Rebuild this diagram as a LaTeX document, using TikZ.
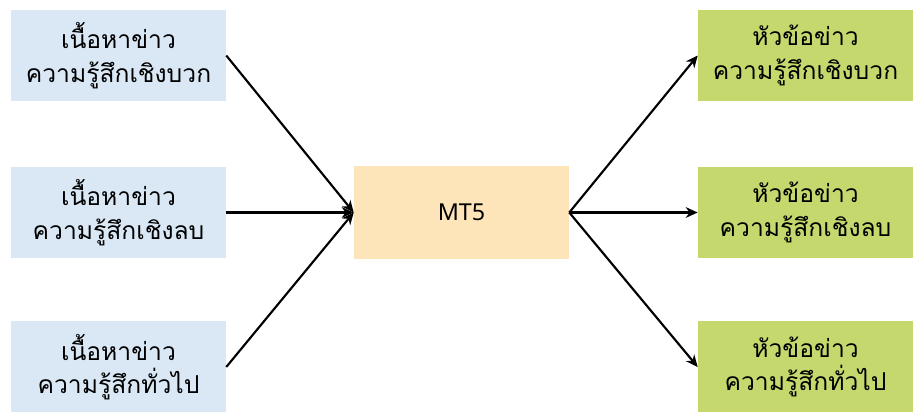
\documentclass[tikz,border=0pt]{standalone}
\usepackage{fontspec}
\setmainfont{Noto Sans}
\newfontfamily\thaifont[Script=Thai]{Loma}
\usetikzlibrary{arrows.meta}
\definecolor{newsblue}{HTML}{DAE8F5}
\definecolor{modelpeach}{HTML}{FDE5B9}
\definecolor{headgreen}{HTML}{C4D86D}
\tikzset{%
    sourcebox/.style={fill=newsblue, minimum width=161.25pt, minimum height=68.25pt, align=center, font=\thaifont\fontsize{18.5}{25}\selectfont},
    modelbox/.style={fill=modelpeach, minimum width=161.25pt, minimum height=69.75pt, font=\fontsize{17.5}{24}\selectfont},
    headbox/.style={fill=headgreen, minimum width=161.25pt, minimum height=68.25pt, align=center, font=\thaifont\fontsize{18.5}{25}\selectfont},
    flow/.style={-{Stealth[length=9pt, width=8pt]}, line width=1.6pt},
}

\begin{document}
\begin{tikzpicture}[x=0.75pt, y=-0.75pt]

	% frame
	\useasboundingbox (0,0) rectangle (915,413);

	% news content
	\node[sourcebox] (srcpos) at (118.5,55.5) {เนื้อหาข่าว\\ความรู้สึกเชิงบวก};
	\node[sourcebox] (srcneg) at (118.5,212.5) {เนื้อหาข่าว\\ความรู้สึกเชิงลบ};
	\node[sourcebox] (srcgen) at (118.5,367) {เนื้อหาข่าว\\ความรู้สึกทั่วไป};

	% model
	\node[modelbox] (mt) at (461.5,212.5) {MT5};

	% headlines
	\node[headbox] (headpos) at (805.5,55.5) {หัวข้อข่าว\\ความรู้สึกเชิงบวก};
	\node[headbox] (headneg) at (805.5,212.5) {หัวข้อข่าว\\ความรู้สึกเชิงลบ};
	\node[headbox] (headgen) at (805.5,367) {หัวข้อข่าว\\ความรู้สึกทั่วไป};

	% arrows
	\draw[flow] (srcpos.east) -- (mt.west);
	\draw[flow] (srcneg.east) -- (mt.west);
	\draw[flow] (srcgen.east) -- (mt.west);
	\draw[flow] (mt.east) -- (headpos.west);
	\draw[flow] (mt.east) -- (headneg.west);
	\draw[flow] (mt.east) -- (headgen.west);

\end{tikzpicture}
\end{document}
